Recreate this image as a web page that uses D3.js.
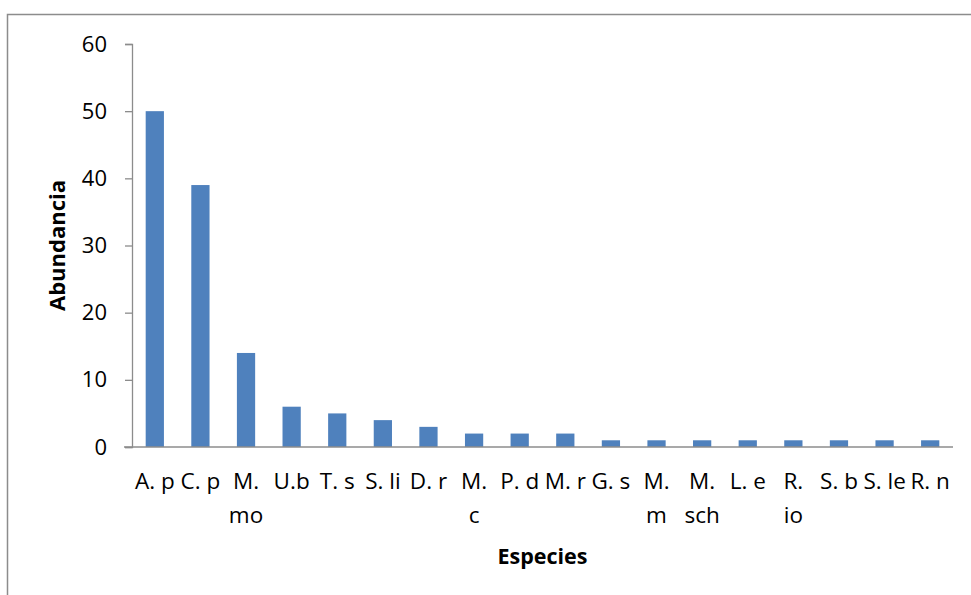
<!DOCTYPE html>
<html>
<head>
<meta charset="utf-8">
<script src="https://cdn.jsdelivr.net/npm/d3@7"></script>
<style>
  html, body { margin: 0; padding: 0; background: #fff; }
  svg { display: block; }
  text { font-family: "Open Sans", "Noto Sans", sans-serif; fill: #000; }
</style>
</head>
<body>
<svg id="chart" width="971" height="595"></svg>
<script>
// ---- data ----
const categories = ["A. p", "C. p", "M. mo", "U.b", "T. s", "S. li", "D. r", "M. c", "P. d",
                    "M. r", "G. s", "M. m", "M. sch", "L. e", "R. io", "S. b", "S. le", "R. n"];
const abundance = [50, 39, 14, 6, 5, 4, 3, 2, 2, 2, 1, 1, 1, 1, 1, 1, 1, 1];
const wrappedCategories = ["M. mo", "M. c", "M. m", "M. sch", "R. io"];
const yTicks = [0, 10, 20, 30, 40, 50, 60];
const yTitle = "Abundancia";
const xTitle = "Especies";

const svg = d3.select("#chart");

// outer chart border
svg.append("rect")
  .attr("x", 7.5).attr("y", 14.5)
  .attr("width", 1000).attr("height", 1000)
  .attr("fill", "none").attr("stroke", "#8c8c8c").attr("stroke-width", 1.5);

const plot = { left: 132, right: 953, top: 44, bottom: 447 };

const x = d3.scaleBand()
  .domain(categories)
  .range([plot.left, plot.right])
  .paddingInner(0.6).paddingOuter(0.3);

const y = d3.scaleLinear().domain([0, 60]).range([plot.bottom, plot.top]);

// bars
svg.append("g").selectAll("rect")
  .data(categories)
  .join("rect")
  .attr("x", d => x(d))
  .attr("width", x.bandwidth())
  .attr("y", (d, i) => y(abundance[i]))
  .attr("height", (d, i) => y(0) - y(abundance[i]))
  .attr("fill", "#4f81bd");

// y axis
const yAxis = svg.append("g")
  .attr("transform", `translate(${plot.left},0)`)
  .call(d3.axisLeft(y).tickValues(yTicks).tickSize(7).tickPadding(18).tickFormat(d3.format("d")));
yAxis.select(".domain").attr("stroke", "#8c8c8c").attr("stroke-width", 1.3);
yAxis.selectAll(".tick line").attr("stroke", "#8c8c8c").attr("stroke-width", 1.3);
yAxis.selectAll(".tick text")
  .style("font-family", "'Open Sans', sans-serif")
  .attr("font-size", 22).attr("fill", "#000");

// x axis (line only, labels custom to allow wrapping)
const xAxis = svg.append("g")
  .attr("transform", `translate(0,${plot.bottom})`)
  .call(d3.axisBottom(x).tickSize(0).tickFormat(""));
xAxis.select(".domain").attr("stroke", "#8c8c8c").attr("stroke-width", 1.3)
  .attr("d", `M${plot.left - 8},0H${plot.right}`);

const labels = svg.append("g").selectAll("text")
  .data(categories)
  .join("text")
  .attr("text-anchor", "middle")
  .attr("font-size", 22.5)
  .attr("transform", d => `translate(${x(d) + x.bandwidth() / 2},0)`);

labels.each(function(d) {
  const t = d3.select(this);
  const lines = wrappedCategories.includes(d) ? d.split(" ") : [d];
  lines.forEach((ln, k) => {
    t.append("tspan").attr("x", 0).attr("y", 489 + k * 34).text(ln);
  });
});

// axis titles
svg.append("text")
  .attr("transform", `translate(65,${(plot.top + plot.bottom) / 2}) rotate(-90)`)
  .attr("text-anchor", "middle")
  .attr("font-size", 22).attr("font-weight", "bold")
  .text(yTitle);

svg.append("text")
  .attr("x", (plot.left + plot.right) / 2).attr("y", 564)
  .attr("text-anchor", "middle")
  .attr("font-size", 21.5).attr("font-weight", "bold")
  .text(xTitle);
</script>
</body>
</html>
